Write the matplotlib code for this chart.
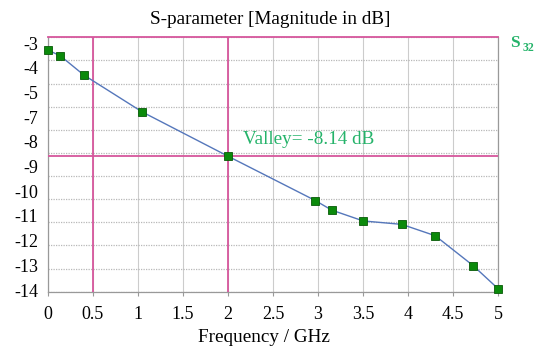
import matplotlib
matplotlib.use("Agg")
import matplotlib.pyplot as plt
import numpy as np

# S32 magnitude (dB) vs frequency (GHz)
freq = [0.0, 0.14, 0.40, 1.05, 2.0, 2.97, 3.15, 3.50, 3.93, 4.30, 4.72, 5.0]
s32 = [-3.55, -3.80, -4.63, -6.23, -8.14, -10.06, -10.47, -10.94, -11.09, -11.58, -12.87, -13.88]

xticks = [0, 0.5, 1, 1.5, 2, 2.5, 3, 3.5, 4, 4.5, 5]
xlabels = ["0", "0.5", "1", "1.5", "2", "2.5", "3", "3.5", "4", "4.5", "5"]
ylabels = ["-3", "-4", "-5", "-7", "-8", "-9", "-10", "-11", "-12", "-13", "-14"]
valley = -8.14
markers_x = [0.5, 2.0]

pink = "#d6569c"
green = "#25b36a"

plt.rcParams["font.family"] = "Liberation Serif"

fig = plt.figure(figsize=(5.44, 3.47), dpi=100)
ax = fig.add_axes([0.0877, 0.1594, 0.8283, 0.7331])

ax.set_xlim(0, 5)
ax.set_ylim(-14, -3)

# grid: 1 dB horizontal (dotted), 0.5 GHz vertical
ax.set_yticks(np.arange(-14, -2, 1))
ax.set_yticklabels([])
ax.tick_params(axis="y", which="major", length=0)
ax.set_yticks(np.linspace(-3.25, -13.93, len(ylabels)), minor=True)
ax.set_yticklabels(ylabels, minor=True, fontsize=13)
ax.tick_params(axis="y", which="minor", length=0, pad=7)
ax.grid(axis="y", which="major", color="#b8b8b8", linestyle=(0, (1, 1)), linewidth=0.9)

ax.set_xticks(xticks)
ax.set_xticklabels(xlabels, fontsize=13)
ax.tick_params(axis="x", length=3, color="#999999", pad=7)
ax.grid(axis="x", which="major", color="#cccccc", linestyle="-", linewidth=0.8)

for side in ["left", "right", "bottom"]:
    ax.spines[side].set_color("#999999")
    ax.spines[side].set_linewidth(0.9)
ax.spines["top"].set_color(pink)
ax.spines["top"].set_linewidth(1.3)

for xv in markers_x:
    ax.axvline(xv, color=pink, linewidth=1.3, zorder=3)
ax.axhline(valley, color=pink, linewidth=1.3, zorder=3)

ax.plot(freq, s32, color="#5577bb", linewidth=1.0, zorder=4)
ax.plot(freq, s32, linestyle="none", marker="s", markersize=5.4,
        markerfacecolor="#0b8a0b", markeredgecolor="#075a07",
        markeredgewidth=0.6, zorder=5, clip_on=False)

ax.text(2.17, valley + 0.7, "Valley= -8.14 dB", color=green, fontsize=13.8,
        va="center", ha="left")

fig.text(0.938, 0.876, "S", color=green, fontsize=12.5, fontweight="bold",
         ha="left", va="center")
fig.text(0.960, 0.862, "32", color=green, fontsize=8.5, fontweight="bold",
         ha="left", va="center")

fig.text(0.497, 0.945, "S-parameter [Magnitude in dB]", fontsize=13.8,
         ha="center", va="center")
fig.text(0.485, 0.026, "Frequency / GHz", fontsize=13.8, ha="center", va="center")

fig.savefig("out.png", dpi=100)
